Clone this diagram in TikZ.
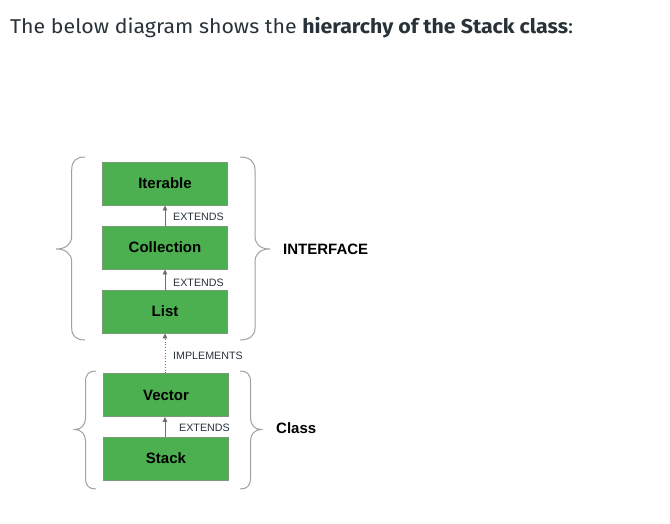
\documentclass[tikz,border=0pt]{standalone}
\usepackage{fontspec}
\usepackage{graphicx}
\setmainfont{Liberation Sans}
\newfontfamily\titlefont{Fira Sans}
\usetikzlibrary{arrows.meta}
\definecolor{boxgreen}{HTML}{4CAF50}
\definecolor{boxedge}{HTML}{7A9A7A}
\definecolor{txtdark}{HTML}{273239}
\definecolor{bracegray}{HTML}{A0A0A0}
\definecolor{arrgray}{HTML}{6E6E6E}
\tikzset{
  classbox/.style={draw=boxedge, line width=0.8pt, fill=boxgreen, minimum width=125pt, minimum height=43pt, inner sep=0pt, font=\fontsize{15}{17}\selectfont\bfseries, text=black},
  lbl/.style={font=\fontsize{10.7}{12}\selectfont, text=txtdark, inner sep=0pt, anchor=west},
  grp/.style={font=\fontsize{15}{17}\selectfont\bfseries, text=black, inner sep=0pt, anchor=west},
  arr/.style={draw=arrgray, line width=0.8pt, -{Triangle[length=5pt,width=4.5pt]}},
  bracepath/.style={draw=bracegray, line width=1pt}
}
\begin{document}
\begin{tikzpicture}[x=1pt,y=-1pt]
\useasboundingbox (0,0) rectangle (670,523);
\node[anchor=base west, inner sep=0pt, text=txtdark] (title) at (10,33)
  {\resizebox{563pt}{\height}{\titlefont\fontsize{20}{24}\selectfont The below diagram shows the \textbf{hierarchy of the Stack class}:}};
% boxes
\node[classbox] (it) at (165,183.5) {Iterable};
\node[classbox] (co) at (165,247.5) {Collection};
\node[classbox] (li) at (165,311.5) {List};
\node[classbox] (ve) at (166,395) {Vector};
\node[classbox] (st) at (166,458.5) {Stack};
% connectors
\draw[arr] (co.north -| 165,0) -- (it.south -| 165,0);
\draw[arr] (li.north -| 165,0) -- (co.south -| 165,0);
\draw[arr, dotted] (ve.north -| 165,0) -- (li.south -| 165,0);
\draw[arr] (st.north -| 165,0) -- (ve.south -| 165,0);
% labels
\node[lbl] (e1) at (173,216.5) {EXTENDS};
\node[lbl] (e2) at (173,283) {EXTENDS};
\node[lbl] (im) at (173,355.5) {IMPLEMENTS};
\node[lbl] (e3) at (179,428) {EXTENDS};
% interface braces
\draw[bracepath] (85,157) .. controls (76,157) and (71.7,161) .. (71.7,170) -- (71.7,236)
  .. controls (71.7,244) and (66,249) .. (56,249)
  .. controls (66,249) and (71.7,254) .. (71.7,262) -- (71.7,328)
  .. controls (71.7,336) and (76,340) .. (85,340);
\draw[bracepath] (240,157) .. controls (249,157) and (255,161) .. (255,170) -- (255,236)
  .. controls (255,244) and (260,249) .. (270,249)
  .. controls (260,249) and (255,254) .. (255,262) -- (255,328)
  .. controls (255,336) and (249,340) .. (240,340);
\node[grp] (iface) at (283,249) {INTERFACE};
% class braces
\draw[bracepath] (96,371) .. controls (89,371) and (85.5,374) .. (85.5,382) -- (85.5,418)
  .. controls (85.5,425) and (81,429.5) .. (75,429.5)
  .. controls (81,429.5) and (85.5,434) .. (85.5,441) -- (85.5,478)
  .. controls (85.5,486) and (89,489) .. (96,489);
\draw[bracepath] (240,371) .. controls (247,371) and (250.5,374) .. (250.5,382) -- (250.5,418)
  .. controls (250.5,425) and (255,429.5) .. (261,429.5)
  .. controls (255,429.5) and (250.5,434) .. (250.5,441) -- (250.5,478)
  .. controls (250.5,486) and (247,489) .. (240,489);
\node[grp] (cls) at (276,428.5) {Class};
\end{tikzpicture}
\end{document}
